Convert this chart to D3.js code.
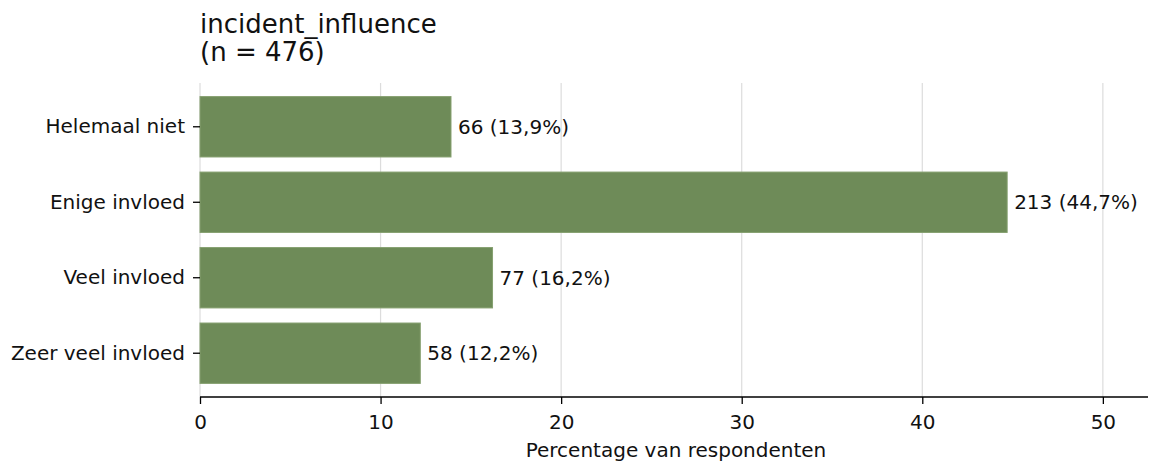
<!DOCTYPE html>
<html><head><meta charset="utf-8">
<script src="https://cdn.jsdelivr.net/npm/d3@7"></script>
<style>body{margin:0;background:#fff}svg{display:block;font-family:"DejaVu Sans",sans-serif}</style>
</head><body><svg id="c" width="1150" height="462"></svg>
<script>
const categories = ["Helemaal niet","Enige invloed","Veel invloed","Zeer veel invloed"];
const counts = [66,213,77,58];
const percents = [13.9,44.7,16.2,12.2];
const xTicks = [0,10,20,30,40,50];
const title = ["incident_influence","(n = 476)"];
const xLabel = "Percentage van respondenten";

const svg = d3.select("#c");
const L=200, R=1148, T=83, B=397;
const FS=20;
const x = d3.scaleLinear().domain([0,52.5]).range([L,R]);
const y = d3.scaleBand().domain(categories).range([T,B]).paddingInner(0.2).paddingOuter(0.18);

// grid
svg.append("g").selectAll("line").data(xTicks).join("line")
  .attr("x1",d=>x(d)).attr("x2",d=>x(d)).attr("y1",T).attr("y2",B)
  .attr("stroke","#dcdcdc").attr("stroke-width",1.2);

// bars
svg.append("g").selectAll("rect").data(categories).join("rect")
  .attr("x",x(0)).attr("y",c=>y(c)).attr("width",(c,i)=>x(percents[i])-x(0)).attr("height",y.bandwidth())
  .attr("fill","#6e8b58").attr("stroke","#86a070").attr("stroke-width",1);

// labels
svg.append("g").selectAll("text").data(categories).join("text")
  .attr("x",(c,i)=>x(percents[i])+7).attr("y",c=>y(c)+y.bandwidth()/2).attr("dy","0.35em")
  .attr("font-size",FS).attr("fill","#111")
  .text((c,i)=>`${counts[i]} (${percents[i].toFixed(1).replace(".",",")}%)`);

// x axis
const xa = svg.append("g").attr("transform",`translate(0,${B})`)
  .call(d3.axisBottom(x).tickValues(xTicks).tickSize(7).tickPadding(11).tickFormat(d3.format("d")));
xa.select(".domain").attr("stroke","#000").attr("stroke-width",1.3).attr("d",`M${L},0H${R}`);
xa.selectAll(".tick line").attr("stroke","#000").attr("stroke-width",1.3);
xa.selectAll("text").attr("font-size",FS).attr("fill","#111").attr("font-family","DejaVu Sans");

// y axis
const ya = svg.append("g").attr("transform",`translate(${L},0)`)
  .call(d3.axisLeft(y).tickSize(7).tickPadding(8));
ya.select(".domain").remove();
ya.selectAll(".tick line").attr("stroke","#000").attr("stroke-width",1.3);
ya.selectAll("text").attr("font-size",FS).attr("fill","#111").attr("font-family","DejaVu Sans");

svg.append("text").attr("x",(L+R)/2+2).attr("y",457).attr("text-anchor","middle")
  .attr("font-size",FS).attr("fill","#111").text(xLabel);

svg.append("g").selectAll("text").data(title).join("text")
  .attr("x",L).attr("y",(d,i)=>33+i*28).attr("font-size",26).attr("fill","#111").text(d=>d);
</script></body></html>
